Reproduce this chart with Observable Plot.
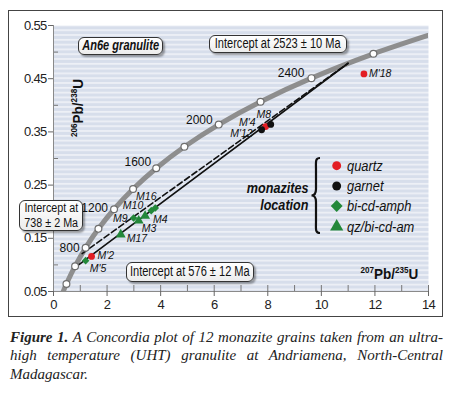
<!DOCTYPE html>
<html><head><meta charset="utf-8">
<script src="https://cdn.jsdelivr.net/npm/d3@7"></script>
<script src="https://cdn.jsdelivr.net/npm/@observablehq/plot@0.6"></script>
<style>
body{margin:0;background:#fff;font-family:"Liberation Sans",Arial,sans-serif;color:#111;}
#wrap{position:relative;width:450px;height:395px;overflow:hidden;}
#chart{position:absolute;left:0;top:0;}
#frame{position:absolute;left:8px;top:10px;width:435px;height:307px;box-sizing:border-box;border:1.5px solid #444;pointer-events:none;}
.box{position:absolute;box-sizing:border-box;border:1px solid #333;border-radius:6px;background:linear-gradient(#ffffff,#ececec);box-shadow:2px 2px 2px rgba(0,0,0,0.35);display:flex;flex-direction:column;align-items:center;justify-content:center;font-size:14px;line-height:13.5px;white-space:nowrap;}
.box span{display:inline-block;transform:scaleX(0.79);}
.box.two{font-size:12.5px;line-height:14.5px;}
.box.two span{transform:scaleX(0.86);}
.ann{position:absolute;white-space:nowrap;font-size:14px;}
.leg{position:absolute;left:346.7px;font-style:italic;font-size:14px;line-height:20px;white-space:nowrap;transform:scaleX(0.92);transform-origin:left center;}
.sup{font-size:9px;vertical-align:6px;}
#caption{position:absolute;left:10px;top:328px;width:433px;font-family:"Liberation Serif","Times New Roman",serif;font-style:italic;font-size:15px;line-height:18.3px;color:#222;}
#caption div{text-align:justify;white-space:nowrap;}
#caption .j{text-align-last:justify;}
g[aria-label="y-axis tick label"], g[aria-label="x-axis tick label"]{letter-spacing:-0.7px;}
g[aria-label="grain label"]{letter-spacing:-0.4px;}
g[aria-label="age label"]{letter-spacing:-0.8px;}
</style></head><body>
<div id="wrap">
  <div id="chart"></div>
  <div id="frame"></div>
  <div class="box" style="left:78px;top:37px;width:85px;height:18px;font-weight:bold;font-style:italic;"><span>An6e granulite</span></div>
  <div class="box" style="left:209px;top:35px;width:138px;height:18px;"><span>Intercept at 2523 ± 10 Ma</span></div>
  <div class="box two" style="left:19px;top:200px;width:64px;height:31px;"><span>Intercept at</span><span>738 ± 2 Ma</span></div>
  <div class="box" style="left:126px;top:262px;width:128px;height:20px;"><span>Intercept at 576 ± 12 Ma</span></div>
  <div class="ann" id="ylab" style="left:77px;top:107.5px;font-weight:bold;font-size:15px;transform:translate(-50%,-50%) rotate(-90deg) scaleX(0.9);"><span class="sup">206</span>Pb/<span class="sup">238</span>U</div>
  <div class="ann" id="xlab" style="right:32px;top:265px;font-weight:bold;font-size:15px;transform:scaleX(0.9);transform-origin:right center;"><span class="sup">207</span>Pb/<span class="sup">235</span>U</div>
  <div class="ann" style="right:142px;top:180px;font-weight:bold;font-style:italic;text-align:right;line-height:17px;transform:scaleX(0.9);transform-origin:right center;">monazites<br>location</div>
  <svg id="legsym" style="position:absolute;left:300px;top:150px;" width="60" height="95"></svg>
  <div id="legtext"></div>
  <div id="caption">
    <div class="j"><b>Figure 1.</b> A Concordia plot of 12 monazite grains taken from an ultra-</div>
    <div class="j">high temperature (UHT) granulite at Andriamena, North-Central</div>
    <div>Madagascar.</div>
  </div>
</div>
<script>
// ---- data ----
const grains      = ["M'18","M8","M'4","M'12","M'2","M'5","M17","M9","M3","M4","M10","M16"];
const pb207u235   = [11.59, 8.11, 7.92, 7.77, 1.42, 1.20, 2.51, 2.99, 3.18, 3.42, 3.65, 3.80];
const pb206u238   = [0.459, 0.364, 0.360, 0.354, 0.116, 0.108, 0.157, 0.188, 0.183, 0.192, 0.202, 0.207];
const locations   = ["quartz","garnet","quartz","garnet","quartz","bi-cd-amph","qz/bi-cd-am","bi-cd-amph","qz/bi-cd-am","qz/bi-cd-am","bi-cd-amph","bi-cd-amph"];
const locationTypes = ["quartz","garnet","bi-cd-amph","qz/bi-cd-am"];
const markerAges  = [400,600,800,1000,1200,1400,1600,1800,2000,2200,2400,2600]; // Ma
const labelledAges = [800,1200,1600,2000,2400];
const curveAges   = [300,400,600,800,1000,1200,1400,1600,1800,2000,2200,2400,2600,2800];
const lowerIntercepts = [576, 738]; // Ma
const upperIntercept  = 2523;       // Ma
const xTicks = [0,1,2,3,4,5,6,7,8,9,10,11,12,13,14];
const xTickLabels = [0,2,4,6,8,10,12,14];
const yTickLabels = [0.05,0.15,0.25,0.35,0.45,0.55];
const yMinorTicks = [0.10,0.20,0.30,0.40,0.50];

// decay constants (per Ma)
const L235 = 9.8485e-4, L238 = 1.55125e-4;
const conc = t => ({age: t, x: Math.expm1(L235 * t), y: Math.expm1(L238 * t)});

// ---- styles ----
const colorOf  = {"quartz":"#e31e24","garnet":"#111111","bi-cd-amph":"#23883a","qz/bi-cd-am":"#23883a"};
const symbolOf = {"quartz":"circle","garnet":"circle","bi-cd-amph":"diamond2","qz/bi-cd-am":"triangle"};
const rOf      = {"quartz":3.4,"garnet":3.4,"bi-cd-amph":3.4,"qz/bi-cd-am":3.7};
const grainLabelPos = {
  "M'18":[5,0,"start"], "M8":[-7,-10,"middle"], "M'4":[-10,-4,"end"], "M'12":[-9,4,"end"],
  "M'2":[6,-1,"start"], "M'5":[4,8,"start"], "M17":[6,4,"start"], "M9":[-6,1,"end"],
  "M3":[3,8,"start"], "M4":[8,4,"start"], "M10":[-8,-5,"end"], "M16":[-9,-11,"middle"]
};
const ageLabelPos = {800:[-6,0],1200:[-6,-1],1600:[-5,-6],2000:[-6,-4],2400:[-7,-5]};

const W = 450, H = 322, mL = 53, mR = 22, mT = 25, mB = 31;
const plotW = W - mL - mR, plotH = H - mT - mB;

const table = grains.map((g,i) => ({grain:g, x:pb207u235[i], y:pb206u238[i], loc:locations[i]}));
const curve = curveAges.map(conc);
const markers = markerAges.map(conc);

const marks = [
  Plot.frame({fill:"url(#stripes)"}),
  Plot.tickY(yMinorTicks, {y:d=>d, insetRight: plotW - 5, stroke:"#777"}),
  Plot.tickX(xTicks, {x:d=>d, insetTop: plotH - 6, stroke:"#777"}),
  Plot.ruleX([0], {stroke:"#8a8a8a"}),
  Plot.ruleY([0.05], {stroke:"#8a8a8a"}),
  Plot.axisY({ticks: yTickLabels, tickSize:5, tickPadding:2, tickFormat:d3.format(".2f"), label:null, fontSize:13, stroke:"#666", color:"#222"}),
  Plot.axisX({ticks: xTickLabels, tickSize:5, tickPadding:3, label:null, fontSize:13, stroke:"#666", color:"#222"}),
  Plot.line(curve, {x:"x", y:"y", stroke:"#8e8e8e", strokeWidth:5, curve:"catmull-rom", clip:true}),
  Plot.line([conc(lowerIntercepts[1]), conc(upperIntercept)], {x:"x", y:"y", stroke:"#111", strokeWidth:1.6, strokeDasharray:"6,3"}),
  Plot.line([conc(lowerIntercepts[0]), conc(upperIntercept)], {x:"x", y:"y", stroke:"#111", strokeWidth:1.6}),
  Plot.dot(markers, {x:"x", y:"y", r:3.4, fill:"white", stroke:"#6e6e6e", strokeWidth:1.2}),
  ...labelledAges.map(a => Plot.text([conc(a)], {x:"x", y:"y", text:d=>String(d.age), dx:ageLabelPos[a][0], dy:ageLabelPos[a][1], textAnchor:"end", fontSize:12, fill:"#111", ariaLabel:"age label"})),
  ...locationTypes.map(l => Plot.dot(table.filter(d=>d.loc===l), {x:"x", y:"y", symbol:symbolOf[l], r:rOf[l], fill:colorOf[l], stroke:"none"})),
  ...table.map(d => Plot.text([d], {x:"x", y:"y", text:"grain", dx:grainLabelPos[d.grain][0], dy:grainLabelPos[d.grain][1], textAnchor:grainLabelPos[d.grain][2], fontSize:10.5, fontStyle:"italic", fill:"#111", ariaLabel:"grain label"}))
];

const svg = Plot.plot({
  width: W, height: H,
  marginLeft: mL, marginRight: mR, marginTop: mT, marginBottom: mB,
  x: {domain:[0,14]},
  y: {domain:[0.05,0.55]},
  style: {background:"transparent", fontFamily:"Liberation Sans, Arial, sans-serif", fontSize:"13px", color:"#222"},
  marks
});
const ns = "http://www.w3.org/2000/svg";
const defs = document.createElementNS(ns, "defs");
defs.innerHTML = '<pattern id="stripes" patternUnits="userSpaceOnUse" width="10" height="4.8"><rect width="10" height="4.8" fill="#d7deeb"/><rect width="10" height="1.8" fill="#edf0f6"/></pattern>';
svg.insertBefore(defs, svg.firstChild);
document.getElementById("chart").appendChild(svg);

// legend symbols + text (layout overlay)
const legY = [165.7, 186, 206, 226.7];
const lx = 36.7, oy = 150;
const ls = d3.select("#legsym");
ls.append("path").attr("d", `M20,8 C15,8 16,12 16,20 L16,39 C16,43.5 14,45.5 11.5,45.5 C14,45.5 16,47.5 16,52 L16,71 C16,79 15,83 20,83`)
  .attr("fill","none").attr("stroke","#111").attr("stroke-width",2.2);
locationTypes.forEach((l,i) => {
  const y = legY[i] - oy;
  ls.append("path").attr("transform",`translate(${lx},${y})`)
    .attr("d", d3.symbol(l==="bi-cd-amph" ? d3.symbolDiamond2 : l==="qz/bi-cd-am" ? d3.symbolTriangle : d3.symbolCircle, l==="bi-cd-amph" ? 90 : l==="qz/bi-cd-am" ? 75 : 62)())
    .attr("fill", colorOf[l]);
  const t = document.createElement("div");
  t.className = "leg"; t.style.top = (legY[i]-10)+"px"; t.textContent = l;
  document.getElementById("legtext").appendChild(t);
});
</script>
</body></html>
